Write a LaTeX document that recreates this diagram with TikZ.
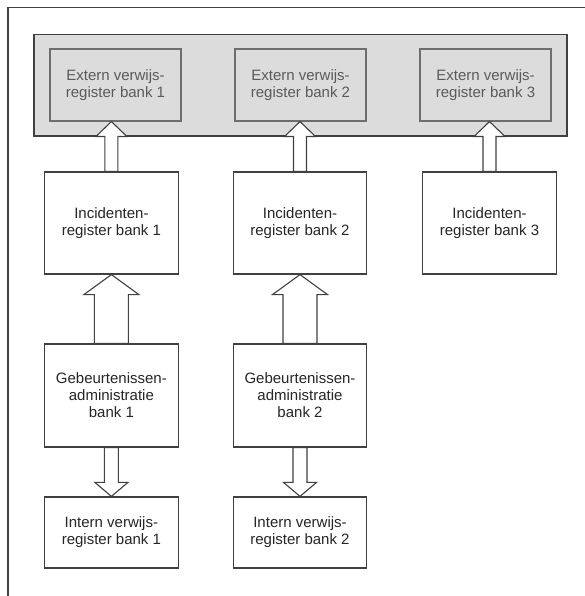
\documentclass[tikz,border=0pt]{standalone}
\usepackage{fontspec}
\setmainfont{Liberation Sans}
\usetikzlibrary{calc}
\definecolor{linec}{HTML}{404040}
\definecolor{barfill}{HTML}{DCDCDC}
\definecolor{extline}{HTML}{6E6E6E}
\definecolor{exttext}{HTML}{5A5A5A}
\tikzset{
  box/.style={draw=linec, line width=1.2pt, fill=white, align=center, inner sep=0pt,
    minimum width=133.5pt, font=\fontsize{15}{17}\selectfont, text=black!85},
  extbox/.style={draw=extline, line width=1.1pt, fill=barfill, align=center, inner sep=0pt,
    minimum width=131pt, minimum height=72pt, font=\fontsize{15}{17}\selectfont, text=exttext},
  barbox/.style={draw=linec, line width=1.2pt, fill=barfill, inner sep=0pt,
    minimum width=533pt, minimum height=101.5pt},
  blockarrow/.style={draw=linec, line width=1.1pt, fill=white, line join=miter}
}
% #1 start node anchor, #2 tip node anchor, #3 shaft half width, #4 head half width, #5 signed head length
\newcommand\varrow[5]{%
  \path[blockarrow] let \p1=(#1), \p2=(#2) in
    (\x1-#3pt,\y1) -- ({\x1-#3pt},{\y2-(#5)*1pt}) -- ({\x1-#4pt},{\y2-(#5)*1pt})
    -- (\x1,\y2) -- ({\x1+#4pt},{\y2-(#5)*1pt}) -- ({\x1+#3pt},{\y2-(#5)*1pt})
    -- (\x1+#3pt,\y1) -- cycle;}
\begin{document}
\begin{tikzpicture}[x=1pt,y=-1pt]
\useasboundingbox (0,0) rectangle (585,596);
% outer frame (top and left edges)
\coordinate (frtr) at (585,7.5);
\coordinate (frtl) at (8,7.5);
\coordinate (frbl) at (8,596);
\draw[linec, line width=1.3pt] (frtr) -- (frtl) -- (frbl);
% grey bar with external registers
\node[barbox] (bar) at (300.5,85.25) {};
\node[extbox] (ext1) at (115.5,85) {Extern verwijs-\\register bank 1};
\node[extbox] (ext2) at (300.5,85) {Extern verwijs-\\register bank 2};
\node[extbox] (ext3) at (485.5,85) {Extern verwijs-\\register bank 3};
% incident registers
\node[box, minimum height=102pt] (inc1) at (111.4,223) {Incidenten-\\register bank 1};
\node[box, minimum height=102pt] (inc2) at (300,223) {Incidenten-\\register bank 2};
\node[box, minimum height=102pt] (inc3) at (489.5,223) {Incidenten-\\register bank 3};
% event administration
\node[box, minimum height=103pt] (geb1) at (111.4,395.5) {Gebeurtenissen-\\administratie\\bank 1};
\node[box, minimum height=103pt] (geb2) at (300,395.5) {Gebeurtenissen-\\administratie\\bank 2};
% internal registers
\node[box, minimum height=71pt] (int1) at (111.4,532.5) {Intern verwijs-\\register bank 1};
\node[box, minimum height=71pt] (int2) at (300,532.5) {Intern verwijs-\\register bank 2};
% arrows
\varrow{inc1.north}{ext1.south}{6.5}{15.5}{15}
\varrow{inc2.north}{ext2.south}{6.5}{15.5}{15}
\varrow{inc3.north}{ext3.south}{6.5}{15.5}{15}
\varrow{geb1.north}{inc1.south}{17}{27.5}{20}
\varrow{geb2.north}{inc2.south}{17}{27.5}{20}
\varrow{geb1.south}{int1.north}{7}{16.5}{-14}
\varrow{geb2.south}{int2.north}{7}{16.5}{-14}
\end{tikzpicture}
\end{document}
